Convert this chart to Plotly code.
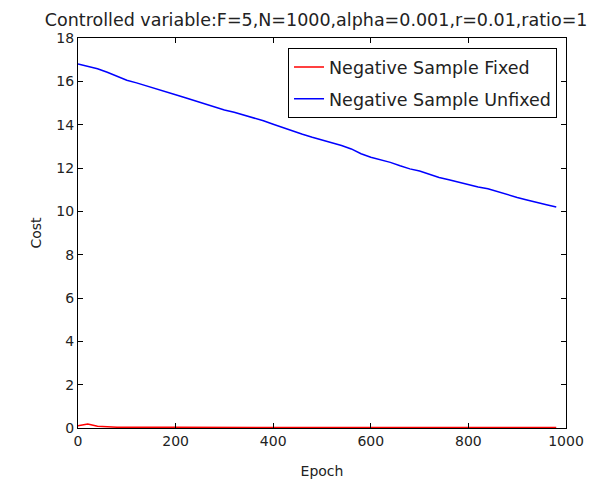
import plotly.graph_objects as go

epochs = list(range(0, 1000, 20))
fixed_cost = [0.10, 0.18, 0.08, 0.05, 0.04, 0.04, 0.03, 0.03, 0.03, 0.03,
              0.03, 0.03, 0.03, 0.03, 0.03, 0.03, 0.03, 0.03, 0.03, 0.03,
              0.02, 0.02, 0.02, 0.02, 0.02, 0.02, 0.02, 0.02, 0.02, 0.02,
              0.02, 0.02, 0.02, 0.02, 0.02, 0.02, 0.02, 0.02, 0.02, 0.02,
              0.02, 0.02, 0.02, 0.02, 0.02, 0.02, 0.02, 0.02, 0.02, 0.02]
unfixed_cost = [16.80, 16.70, 16.58, 16.42, 16.24, 16.05, 15.93, 15.80, 15.65, 15.52,
                15.38, 15.24, 15.10, 14.96, 14.80, 14.68, 14.57, 14.45, 14.32, 14.18,
                14.02, 13.86, 13.72, 13.56, 13.42, 13.30, 13.18, 13.04, 12.88, 12.66,
                12.50, 12.38, 12.26, 12.10, 11.96, 11.86, 11.72, 11.56, 11.46, 11.34,
                11.22, 11.12, 11.04, 10.90, 10.78, 10.64, 10.52, 10.40, 10.30, 10.20]

x_ticks = [0, 200, 400, 600, 800, 1000]
y_ticks = [0, 2, 4, 6, 8, 10, 12, 14, 16, 18]

FONT = "DejaVu Sans"

fig = go.Figure()
fig.add_trace(go.Scatter(x=epochs, y=fixed_cost, mode="lines",
                         name="Negative Sample Fixed", legendgroup="a",
                         line=dict(color="#ff0000", width=1.5)))
fig.add_trace(go.Scatter(x=epochs, y=unfixed_cost, mode="lines",
                         name="Negative Sample Unfixed", legendgroup="b",
                         line=dict(color="#0000ff", width=1.5)))

axis_common = dict(showgrid=False, zeroline=False, showline=True,
                   linecolor="black", linewidth=1, mirror="ticks",
                   ticks="inside", ticklen=5, tickcolor="black",
                   automargin=False,
                   tickfont=dict(family=FONT, size=14, color="#222"))

fig.update_layout(
    width=591, height=493,
    margin=dict(l=78, r=25, t=38, b=65),
    paper_bgcolor="white", plot_bgcolor="white",
    font=dict(family=FONT, color="#222"),
    title=dict(text="Controlled variable:F=5,N=1000,alpha=0.001,r=0.01,ratio=1",
               font=dict(family=FONT, size=17.5, color="#222"),
               x=0.488, xanchor="center", xref="paper",
               y=0.959, yanchor="middle", yref="container"),
    xaxis=dict(range=[0, 1000], tickvals=x_ticks,
               title=dict(text="Epoch", font=dict(family=FONT, size=14), standoff=18),
               **axis_common),
    yaxis=dict(range=[0, 18], tickvals=y_ticks,
               title=dict(text="Cost", font=dict(family=FONT, size=14), standoff=11),
               **axis_common),
    legend=dict(x=0.9816, y=0.974, xanchor="right", yanchor="top",
                bordercolor="black", borderwidth=1, bgcolor="white",
                font=dict(family=FONT, size=17.5, color="#222"),
                tracegroupgap=6, itemwidth=30),
    showlegend=True,
)

fig.write_html("out.html", config={"displayModeBar": False},
               post_script="document.body.style.margin='0';document.body.style.padding='0';")
